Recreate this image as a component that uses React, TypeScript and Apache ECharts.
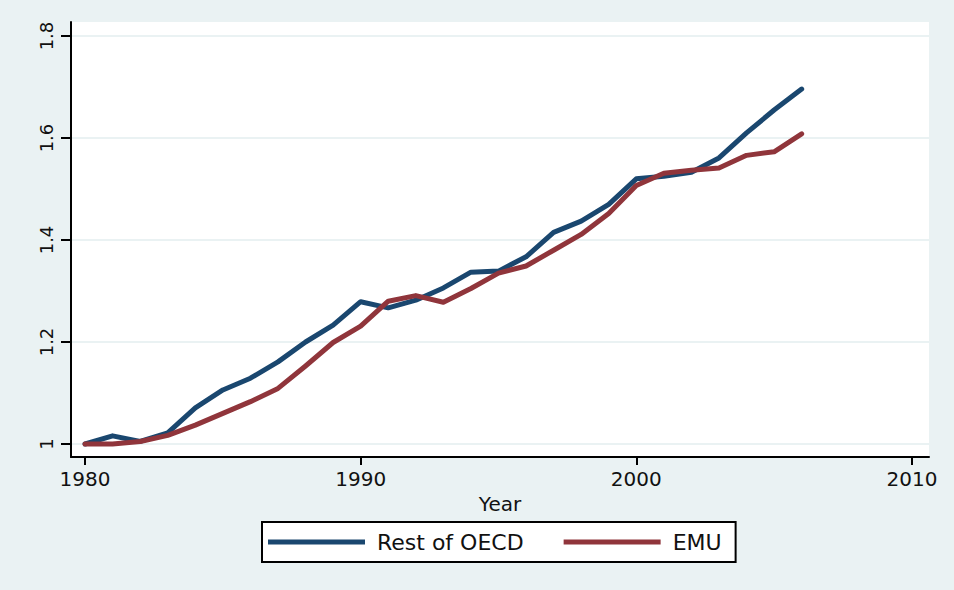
import React, { useEffect, useRef } from "react";
import * as echarts from "echarts";

const years = [1980, 1981, 1982, 1983, 1984, 1985, 1986, 1987, 1988, 1989, 1990, 1991, 1992, 1993, 1994, 1995, 1996, 1997, 1998, 1999, 2000, 2001, 2002, 2003, 2004, 2005, 2006];
const restOfOECD = [1.000, 1.016, 1.005, 1.022, 1.071, 1.106, 1.129, 1.161, 1.200, 1.233, 1.279, 1.267, 1.282, 1.306, 1.337, 1.339, 1.367, 1.415, 1.437, 1.470, 1.520, 1.525, 1.533, 1.561, 1.610, 1.655, 1.696];
const emu = [1.000, 1.000, 1.005, 1.017, 1.037, 1.060, 1.083, 1.109, 1.153, 1.199, 1.231, 1.280, 1.291, 1.278, 1.305, 1.335, 1.349, 1.380, 1.411, 1.452, 1.507, 1.531, 1.537, 1.541, 1.566, 1.573, 1.608];
const xTicks = [1980, 1990, 2000, 2010];
const yTicks = [1, 1.2, 1.4, 1.6, 1.8];
const seriesNames = ["Rest of OECD", "EMU"];

export default function App() {
  const ref = useRef<HTMLDivElement>(null);
  useEffect(() => {
    if (!ref.current) return;
    document.body.style.margin = "0";
    const chart = echarts.init(ref.current, null, { renderer: "svg" });
    const bg = "#eaf2f3";
    chart.setOption({
      animation: false,
      backgroundColor: bg,
      grid: {
        left: 71,
        top: 22,
        right: 25,
        bottom: 133,
        show: true,
        backgroundColor: "#ffffff",
        borderWidth: 0,
        containLabel: false,
      },
      xAxis: {
        type: "value",
        min: 1979.49,
        max: 2010.62,
        name: "Year",
        nameLocation: "middle",
        nameGap: 25,
        nameTextStyle: { fontFamily: "DejaVu Sans", fontSize: 20, color: "#111" },
        axisLine: { show: true, onZero: false, lineStyle: { color: "#000", width: 2 } },
        axisTick: { show: true, length: 8, customValues: xTicks, lineStyle: { color: "#000", width: 2 } },
        axisLabel: {
          customValues: xTicks,
          margin: 12,
          fontFamily: "DejaVu Sans",
          fontSize: 20,
          color: "#111",
          formatter: (v: number) => String(v),
        },
        splitLine: { show: false },
      },
      yAxis: {
        type: "value",
        min: 0.9745,
        max: 1.8275,
        axisLine: { show: true, onZero: false, lineStyle: { color: "#000", width: 2 } },
        axisTick: { show: true, length: 10, customValues: yTicks, lineStyle: { color: "#000", width: 2 } },
        axisLabel: {
          customValues: yTicks,
          rotate: 90,
          margin: 16,
          fontFamily: "DejaVu Sans",
          fontSize: 18,
          color: "#111",
          formatter: (v: number) => (Math.abs(v - 1) < 1e-9 ? "1" : v.toFixed(1)),
        },
        splitLine: { show: true, lineStyle: { color: bg, width: 2 } },
      },
      legend: {
        data: seriesNames,
        left: 262,
        top: 522,
        orient: "horizontal",
        icon: "rect",
        itemWidth: 97,
        itemHeight: 5,
        itemGap: 40,
        padding: [7, 14, 7, 6],
        backgroundColor: "#ffffff",
        borderColor: "#000",
        borderWidth: 2,
        borderRadius: 0,
        textStyle: {
          fontFamily: "DejaVu Sans",
          fontSize: 22,
          color: "#111",
          lineHeight: 26,
          padding: [0, 0, 0, 7],
        },
      },
      tooltip: { show: false },
      series: [
        {
          name: seriesNames[0],
          type: "line",
          symbol: "none",
          data: years.map((y, i) => [y, restOfOECD[i]]),
          lineStyle: { color: "#1a476f", width: 5, cap: "round", join: "round" },
          itemStyle: { color: "#1a476f" },
          z: 2,
        },
        {
          name: seriesNames[1],
          type: "line",
          symbol: "none",
          data: years.map((y, i) => [y, emu[i]]),
          lineStyle: { color: "#90353b", width: 5, cap: "round", join: "round" },
          itemStyle: { color: "#90353b" },
          z: 3,
        },
      ],
    });
    return () => chart.dispose();
  }, []);
  return <div ref={ref} style={{ width: 954, height: 590 }} />;
}
